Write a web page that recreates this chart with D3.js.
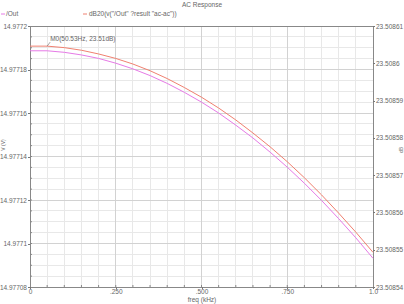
<!DOCTYPE html>
<html>
<head>
  <meta charset="utf-8">
  <title>AC Response</title>
  <style>
  body { margin: 0; background: #fff; }
  text { font-family: "Liberation Sans", Arial, sans-serif; font-size: 6.5px; fill: #666; }
  .axis path, .axis line { stroke: #777; shape-rendering: crispEdges; }
</style>
</head>
<body>
  <div id="viz"></div>
  <script src="https://d3js.org/d3.v7.min.js"></script>
  <script>
    // data (freq in kHz)
    const freq = [0, 0.05, 0.1, 0.15, 0.2, 0.25, 0.3, 0.35, 0.4, 0.45, 0.5,
                  0.55, 0.6, 0.65, 0.7, 0.75, 0.8, 0.85, 0.9, 0.95, 1.0];
    const outMag = [14.9771886, 14.9771886, 14.9771879, 14.9771867, 14.9771851, 14.9771829,
                    14.9771803, 14.9771772, 14.9771736, 14.9771695, 14.9771650, 14.9771600,
                    14.9771544, 14.9771485, 14.9771420, 14.9771351, 14.9771277, 14.9771198,
                    14.9771114, 14.9771026, 14.9770932];
    const outDb = [23.5086046, 23.5086046, 23.5086042, 23.5086035, 23.5086025, 23.5086013,
                   23.5085998, 23.5085980, 23.5085959, 23.5085935, 23.5085909, 23.5085880,
                   23.5085848, 23.5085813, 23.5085776, 23.5085736, 23.5085693, 23.5085647,
                   23.5085598, 23.5085547, 23.5085493];
    const leftTicks = [14.97708, 14.9771, 14.97712, 14.97714, 14.97716, 14.97718, 14.9772];
    const rightTicks = [23.50854, 23.50855, 23.50856, 23.50857, 23.50858, 23.50859, 23.5086, 23.50861];
    const xTicks = [0, 0.25, 0.5, 0.75, 1.0];
    const xTickLabels = ["0", ".250", ".500", ".750", "1.0"];
    const marker = {f: 0.05, label: "M0(50.53Hz, 23.51dB)"};

    const svgWidth = 404, svgHeight = 304;
    const margin = {top: 26, right: 31, bottom: 17, left: 30};
    const width = svgWidth - margin.left - margin.right;
    const height = svgHeight - margin.top - margin.bottom;

    const svg = d3.select("#viz").append("svg")
      .attr("width", svgWidth)
      .attr("height", svgHeight);

    const x = d3.scaleLinear().domain([0, 1]).range([0, width]);
    const yL = d3.scaleLinear().domain([14.97708, 14.9772]).range([height, 0]);
    const yR = d3.scaleLinear().domain([23.50854, 23.50861]).range([height, 0]);

    const g = svg.append("g").attr("transform", `translate(${margin.left},${margin.top})`);

    // grid: minor then major
    const grid = g.append("g").attr("shape-rendering", "crispEdges");
    grid.selectAll(".vmin").data(d3.range(1, 20).map(i => i * 0.05))
      .join("line")
      .attr("x1", d => x(d)).attr("x2", d => x(d))
      .attr("y1", 0).attr("y2", height)
      .attr("stroke", "#e8e8e8");
    grid.selectAll(".hmin").data(d3.range(1, 24).map(i => 14.97708 + i * 0.000005))
      .join("line")
      .attr("x1", 0).attr("x2", width)
      .attr("y1", d => yL(d)).attr("y2", d => yL(d))
      .attr("stroke", "#e8e8e8");
    grid.selectAll(".vmaj").data(xTicks.slice(1, -1))
      .join("line")
      .attr("x1", d => x(d)).attr("x2", d => x(d))
      .attr("y1", 0).attr("y2", height)
      .attr("stroke", "#d2d2d2");
    grid.selectAll(".hmaj").data(leftTicks.slice(1, -1))
      .join("line")
      .attr("x1", 0).attr("x2", width)
      .attr("y1", d => yL(d)).attr("y2", d => yL(d))
      .attr("stroke", "#d2d2d2");

    // frame
    g.append("rect").attr("width", width).attr("height", height)
      .attr("fill", "none").attr("stroke", "#888").attr("shape-rendering", "crispEdges");

    // axes
    const fmt = v => String(parseFloat(v.toFixed(5)));
    g.append("g").attr("class", "axis")
      .call(d3.axisLeft(yL).tickValues(leftTicks).tickFormat(fmt).tickSize(2).tickPadding(1))
      .call(a => a.select(".domain").remove());
    g.append("g").attr("class", "axis").attr("transform", `translate(${width},0)`)
      .call(d3.axisRight(yR).tickValues(rightTicks).tickFormat(fmt).tickSize(2).tickPadding(1))
      .call(a => a.select(".domain").remove());
    g.append("g").attr("class", "axis").attr("transform", `translate(0,${height})`)
      .call(d3.axisBottom(x).tickValues(xTicks).tickFormat((d, i) => xTickLabels[i]).tickSize(2).tickPadding(0))
      .call(a => a.select(".domain").remove());
    // minor tick marks along the axes
    g.append("g").selectAll("line").data(d3.range(1, 20).map(i => i * 0.05))
      .join("line")
      .attr("x1", d => x(d)).attr("x2", d => x(d))
      .attr("y1", height).attr("y2", height - 2)
      .attr("stroke", "#888");
    g.append("g").selectAll("line").data(d3.range(1, 24).map(i => 14.97708 + i * 0.000005))
      .join("line")
      .attr("x1", 0).attr("x2", 2)
      .attr("y1", d => yL(d)).attr("y2", d => yL(d))
      .attr("stroke", "#888");

    // curves
    const lineL = d3.line().x((d, i) => x(freq[i])).y(d => yL(d));
    const lineR = d3.line().x((d, i) => x(freq[i])).y(d => yR(d));
    g.append("path").attr("d", lineL(outMag))
      .attr("fill", "none").attr("stroke", "#e67ae6").attr("stroke-width", 1);
    g.append("path").attr("d", lineR(outDb))
      .attr("fill", "none").attr("stroke", "#f08070").attr("stroke-width", 1);

    // marker
    const mi = freq.indexOf(marker.f);
    g.append("line")
      .attr("x1", x(marker.f)).attr("y1", yR(outDb[mi]))
      .attr("x2", x(marker.f) + 3).attr("y2", yR(outDb[mi]) - 4)
      .attr("stroke", "#666").attr("stroke-width", 0.6);
    g.append("text")
      .attr("x", x(marker.f) + 3).attr("y", yR(outDb[mi]) - 5)
      .text(marker.label);

    // title, legend, axis titles
    svg.append("text").attr("x", 202).attr("y", 7).attr("text-anchor", "middle").text("AC Response");
    svg.append("line").attr("x1", 1).attr("x2", 5).attr("y1", 14).attr("y2", 14)
      .attr("stroke", "#e67ae6");
    svg.append("text").attr("x", 6).attr("y", 16).text("/Out");
    svg.append("line").attr("x1", 83).attr("x2", 87).attr("y1", 14).attr("y2", 14)
      .attr("stroke", "#f08070");
    svg.append("text").attr("x", 89).attr("y", 16).text('dB20(v("/Out" ?result "ac-ac"))');
    svg.append("text").attr("x", 202).attr("y", 302).attr("text-anchor", "middle").text("freq (kHz)");
    svg.append("text").attr("transform", "translate(5,145) rotate(-90)")
      .attr("text-anchor", "middle").style("font-size", "5px").text("V (V)");
    svg.append("text").attr("transform", "translate(403,150) rotate(-90)")
      .attr("text-anchor", "middle").style("font-size", "5px").text("dB");
  </script>
</body>
</html>
